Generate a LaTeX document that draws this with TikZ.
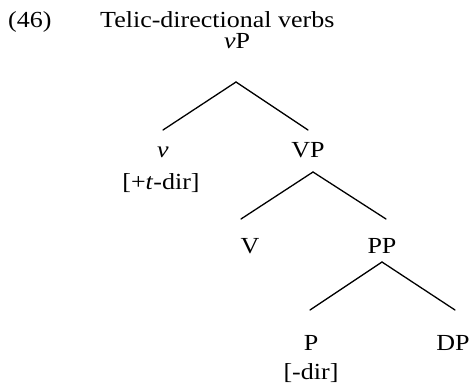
\documentclass[tikz,border=0pt]{standalone}
\usepackage{fontspec}
\setmainfont[FakeStretch=1.13]{Liberation Serif}
\begin{document}
\begin{tikzpicture}[x=1pt,y=-1pt,
  lbl/.style={inner sep=0pt,anchor=base,font=\fontsize{23}{27}\selectfont},
  branch/.style={line width=1.3pt,line cap=round}]
\useasboundingbox (0,0) rectangle (472,386);
% heading
\node[lbl,anchor=base west] (num) at (8,27) {(46)};
\node[lbl,anchor=base west] (title) at (100,27) {Telic-directional verbs};
% tree labels
\node[lbl] (vP) at (237,48) {\textit{v}P};
\node[lbl] (v) at (163,157) {\textit{v}};
\node[lbl] (vfeat) at (161,189) {[+\textit{t}-dir]};
\node[lbl] (VP) at (308,157) {VP};
\node[lbl] (V) at (250,253) {V};
\node[lbl] (PP) at (382,253) {PP};
\node[lbl] (P) at (311,350) {P};
\node[lbl] (DP) at (453,350) {DP};
\node[lbl] (pfeat) at (311,379) {[-dir]};
% branches
\draw[branch] ([shift={(-1,34)}]vP.base) -- ([shift={(0,-27)}]v.base);
\draw[branch] ([shift={(-1,34)}]vP.base) -- ([shift={(0,-27)}]VP.base);
\draw[branch] ([shift={(5,15)}]VP.base) -- ([shift={(-9,-34)}]V.base);
\draw[branch] ([shift={(5,15)}]VP.base) -- ([shift={(4,-34)}]PP.base);
\draw[branch] ([shift={(0,9)}]PP.base) -- ([shift={(-1,-40)}]P.base);
\draw[branch] ([shift={(0,9)}]PP.base) -- ([shift={(2,-40)}]DP.base);
\end{tikzpicture}
\end{document}
